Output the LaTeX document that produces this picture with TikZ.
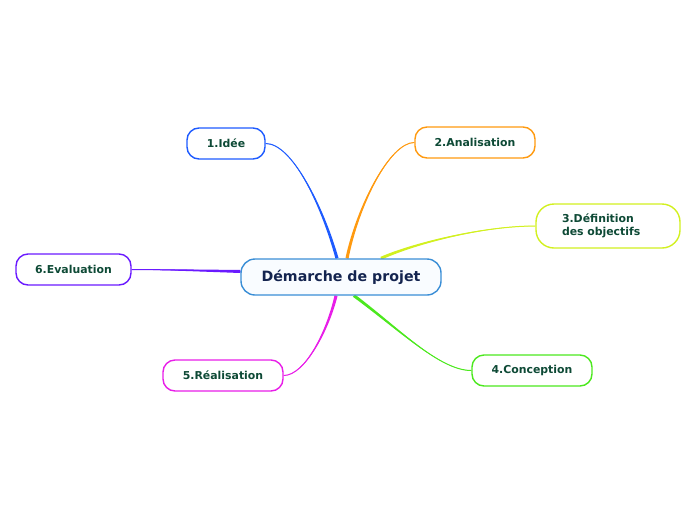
\documentclass[tikz,border=0pt]{standalone}
\usepackage{fontspec}
\setmainfont{DejaVu Sans}
\usetikzlibrary{calc,backgrounds}
\definecolor{cblue}{HTML}{1E5BFF}
\definecolor{corange}{HTML}{FF9A10}
\definecolor{cyellow}{HTML}{D2F020}
\definecolor{cgreen}{HTML}{4CE81E}
\definecolor{cmag}{HTML}{E81EE8}
\definecolor{cpurple}{HTML}{6A1AFF}
\definecolor{cmain}{HTML}{3A8ED6}
\definecolor{cmainfill}{HTML}{F9FCFF}
\definecolor{ctext}{HTML}{0E4A36}
\definecolor{cmaintext}{HTML}{14244F}
\tikzset{
  child/.style={draw=#1, line width=1.4pt, rounded corners=12pt, fill=white,
    text=ctext, font=\bfseries\fontsize{10.9}{13}\selectfont, inner sep=0pt, minimum height=31pt},
  mainbox/.style={draw=cmain, line width=1.4pt, rounded corners=14pt, fill=cmainfill,
    text=cmaintext, font=\bfseries\fontsize{14.2}{16}\selectfont, minimum width=200pt, minimum height=36pt, inner sep=0pt},
  link/.style={draw=#1, line width=1pt}
}
% tapered branch: colour, start, control near start, control near end, end,
% start half-width offset, offset at control 1, offset at control 2, end half-width offset
\newcommand\branch[9]{%
  \fill[#1] ($#2+#6$) .. controls ($#3+#7$) and ($#4+#8$) .. ($#5+#9$) -- ($#5-#9$) .. controls ($#4-#8$) and ($#3-#7$) .. ($#2-#6$) -- cycle;
  \draw[link=#1] #2 .. controls #3 and #4 .. #5;}
\begin{document}
\begin{tikzpicture}[x=1pt,y=-1pt]
\useasboundingbox (0,0) rectangle (696,520);
% nodes
\node[mainbox] (c) at (341,277) {Démarche de projet};
\node[child=cblue, minimum width=78pt] (i) at (226,143.5) {1.Idée};
\node[child=corange, minimum width=120pt] (a) at (475,142.5) {2.Analisation};
\node[child=cyellow, minimum width=144pt, minimum height=44pt, rounded corners=18pt, text width=92pt, align=left] (d) at (608,226) {3.Définition\\des objectifs};
\node[child=cgreen, minimum width=120pt] (co) at (532,370.5) {4.Conception};
\node[child=cmag, minimum width=120pt] (r) at (223,375.5) {5.Réalisation};
\node[child=cpurple, minimum width=115pt] (e) at (73.5,269.5) {6.Evaluation};
% connector endpoints on the central node
\coordinate (bS) at ($(c.north)+(-4,0)$);
\coordinate (oS) at ($(c.north)+(6,0)$);
\coordinate (yS) at ($(c.north)+(40,0)$);
\coordinate (gS) at ($(c.south)+(13,0)$);
\coordinate (mS) at ($(c.south)+(-5,0)$);
\coordinate (pS) at ($(c.west)+(0,-5.5)$);
\begin{scope}[on background layer]
\branch{cblue}{(bS)}{(322,205)}{(292,143.5)}{(i.east)}{(1.5,-0.4)}{(1.0,-0.4)}{(0,0.3)}{(0,0.1)}
\branch{corange}{(oS)}{(358,205)}{(390,142.5)}{(a.west)}{(1.5,0.4)}{(1.0,0.4)}{(0,0.3)}{(0,0.1)}
\branch{cyellow}{(yS)}{(410,245)}{(480,226)}{(d.west)}{(0.6,1.4)}{(0.4,1.0)}{(0,0.3)}{(0,0.1)}
\branch{cgreen}{(gS)}{(400,330)}{(440,370.5)}{(co.west)}{(1.2,-1.0)}{(0.8,-0.7)}{(0,0.3)}{(0,0.1)}
\branch{cmag}{(mS)}{(328,330)}{(305,375.5)}{(r.east)}{(1.5,0.4)}{(1.0,0.4)}{(0,0.3)}{(0,0.1)}
\branch{cpurple}{(pS)}{(200,270.5)}{(160,269.5)}{(e.east)}{(0,1.5)}{(0,1.0)}{(0,0.4)}{(0,0.1)}
\end{scope}
\end{tikzpicture}
\end{document}
